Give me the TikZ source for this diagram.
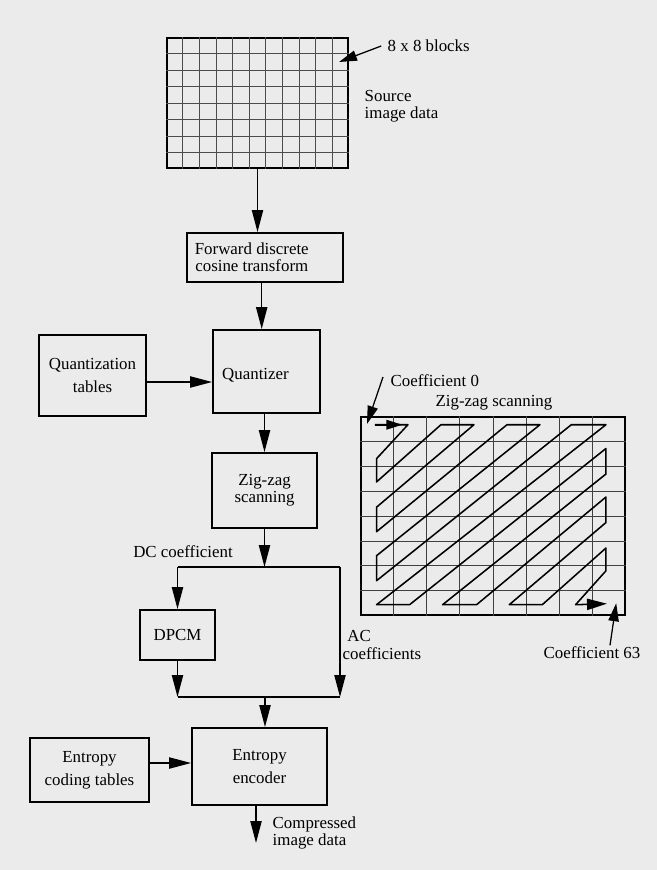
\documentclass[tikz,border=0pt]{standalone}
\usepackage{fontspec}
\setmainfont{Liberation Serif}
\usetikzlibrary{arrows.meta,calc}

\begin{document}
\begin{tikzpicture}[
  x=0.025cm, y=-0.025cm,
  font=\fontsize{12}{12.1}\selectfont,
  flow/.style={-{Triangle[length=5.5mm, width=2.8mm]}, line width=1.1pt},
  pointer/.style={-{Triangle[length=4.5mm, width=2.6mm]}, line width=0.9pt},
  box/.style={draw, line width=1.3pt, inner sep=0pt, align=center},
  wide lines/.style={font=\fontsize{12}{16.3}\selectfont},
  lbl/.style={inner sep=1pt, align=left},
  cellline/.style={draw=black!70, line width=0.6pt},
]

% === Page ===
\fill[black!8] (0,0) rectangle (657,870);
\useasboundingbox (0,0) rectangle (657,870);

% === Source image: grid of 8 x 8 blocks ===
\node[box, minimum width=4.525cm, minimum height=3.25cm] (src) at (257.5,103) {};
\foreach \i in {1,...,10} {
  \draw[cellline] ($(src.north west)!\i/11!(src.north east)$) -- ($(src.south west)!\i/11!(src.south east)$);
}
\foreach \j in {1,...,7} {
  \draw[cellline] ($(src.north west)!\j/8!(src.south west)$) -- ($(src.north east)!\j/8!(src.south east)$);
}

\node[lbl, anchor=west] (blocks) at (386,46) {8 x 8 blocks};
\coordinate (blocks tip) at (339,62);
\draw[pointer] ([xshift=-0.12cm]blocks.west) -- (blocks tip);
\node[lbl, anchor=west] (srclbl) at (363,106) {Source\\image data};

% === Encoder chain ===
\node[box, minimum width=3.9cm, minimum height=1.225cm,
  label={[name=fdct text, align=center, xshift=-0.33cm]center:Forward discrete\\cosine transform}]
  (fdct) at (265,257.5) {};
\node[box, minimum width=2.675cm, minimum height=2.075cm,
  label={[name=quant text, xshift=-0.275cm, yshift=-0.09cm]center:Quantizer}]
  (quant) at (266.5,371.5) {};
\node[box, wide lines, minimum width=2.675cm, minimum height=2.025cm] (qtab) at (92.5,375.5) {Quantization\\tables};
\node[box, minimum width=2.625cm, minimum height=1.875cm] (zz) at (264.5,490.5) {Zig-zag\\scanning};
\node[box, minimum width=1.875cm, minimum height=1.25cm] (dpcm) at (177.5,635) {DPCM};
\node[box, wide lines, minimum width=3.375cm, minimum height=1.925cm] (enc) at (259.5,766.5) {Entropy\\encoder};
\node[box, wide lines, minimum width=2.975cm, minimum height=1.6cm] (ect) at (89.5,770) {Entropy\\coding tables};

\draw[flow] (src.south) -- (src.south |- fdct.north);
\draw[flow] ([xshift=-0.12cm]fdct.south -| quant.north) -- ([xshift=-0.12cm]quant.north);
\draw[flow] (qtab.east |- 0,382) -- (quant.west |- 0,382);
\draw[flow] (zz.north |- quant.south) -- (zz.north);

% DC / AC split
\coordinate (dc bus l) at (dpcm.north |- 0,567);
\coordinate (dc bus r) at (340,567);
\coordinate (ac bus l) at (dpcm.south |- 0,697);
\coordinate (ac bus r) at (340,697);
\coordinate (ac join) at (265,697);
\draw[flow] (zz.south) -- (zz.south |- dc bus l);
\draw[line width=1.1pt] (dc bus l) -- (dc bus r);
\draw[flow] (dc bus l) -- (dpcm.north);
\draw[flow] (dc bus r) -- (ac bus r);
\draw[flow] (dpcm.south) -- (ac bus l);
\draw[line width=1.1pt] (ac bus l) -- (ac bus r);
\draw[flow] (ac join) -- (ac join |- enc.north);
\draw[flow] (ect.east |- 0,763) -- (enc.west |- 0,763);

\coordinate (out) at (256,843);
\draw[flow] (out |- enc.south) -- (out);

\node[lbl] (dclbl) at (183,552) {DC coefficient};
\node[lbl, anchor=north west, font=\fontsize{12}{12.6}\selectfont] (aclbl) at (341,629) {\hspace*{0.12cm}AC\\coefficients};
\node[lbl, anchor=west] (outlbl) at (271,833) {Compressed\\image data};

% === Zig-zag scanning of one block ===
\node[lbl] (zzlbl) at (494,403) {Zig-zag scanning};
\node[box, minimum width=6.6cm, minimum height=4.95cm] (zzgrid) at (493,516) {};
\foreach \i in {1,...,7} {
  \draw[cellline, draw=black!75, line width=0.7pt] ($(zzgrid.north west)!\i/8!(zzgrid.north east)$) -- ($(zzgrid.south west)!\i/8!(zzgrid.south east)$);
  \draw[cellline, draw=black!75, line width=0.7pt] ($(zzgrid.north west)!\i/8!(zzgrid.south west)$) -- ($(zzgrid.north east)!\i/8!(zzgrid.south east)$);
}

\begin{scope}[shift={(zzgrid.north west)}, x=0.825cm, y=-0.61875cm, line width=1.1pt, line join=round]
  \draw[-{Triangle[length=5mm, width=2.8mm]}]
    (0.45,0.35) -- (1.45,0.35) -- (0.5,1.72) -- (0.5,2.66) -- (2.45,0.35)
    -- (3.45,0.35) -- (0.5,3.68) -- (0.5,4.67) -- (4.45,0.35)
    -- (5.45,0.35) -- (0.5,5.64) -- (0.5,6.65) -- (6.4,0.35)
    -- (7.45,0.35) -- (0.5,7.62) -- (1.5,7.62) -- (7.45,1.31)
    -- (7.45,2.34) -- (2.5,7.62) -- (3.53,7.62) -- (7.45,3.27)
    -- (7.45,4.3) -- (4.52,7.62) -- (5.52,7.62) -- (7.45,5.33)
    -- (7.45,6.25) -- (6.53,7.62) -- (7.48,7.58);
  \draw[-{Triangle[length=4mm, width=2.4mm]}] (0.45,0.35) -- (1.28,0.35);
  \coordinate (c0 tip) at (0.21,0.32);
  \coordinate (c63 tip) at (7.76,7.56);
\end{scope}

\node[lbl, anchor=west] (c0) at (389,381) {Coefficient 0};
\draw[pointer] ([shift={(-0.15cm,0.1cm)}]c0.west) -- (c0 tip);
\node[lbl] (c63) at (592,653) {Coefficient 63};
\draw[pointer] ([xshift=0.45cm]c63.north) -- (c63 tip);

\end{tikzpicture}
\end{document}
